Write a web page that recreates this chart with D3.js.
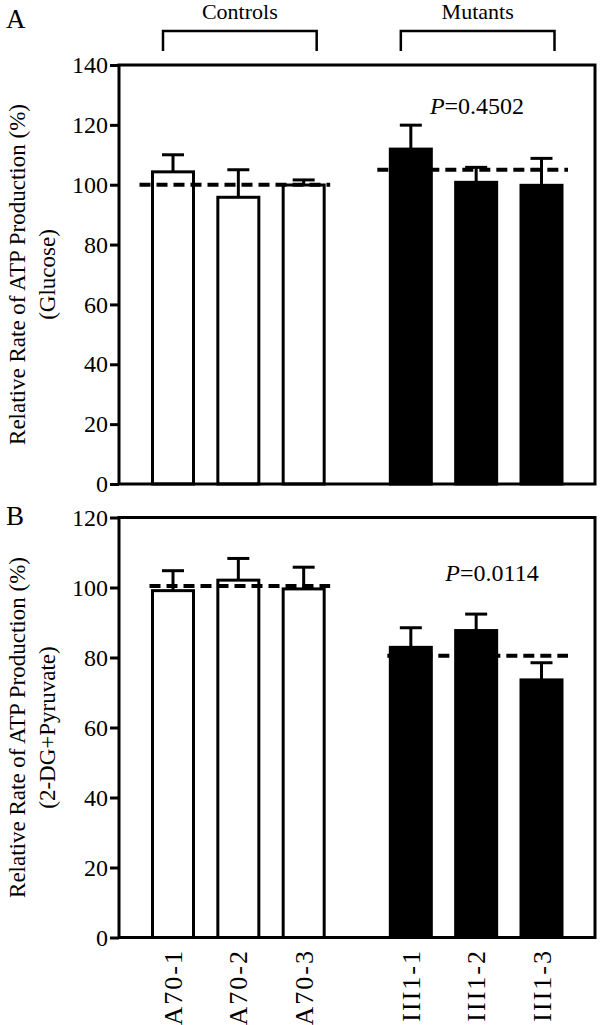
<!DOCTYPE html>
<html>
<head>
<meta charset="utf-8">
<script src="https://cdn.jsdelivr.net/npm/d3@7"></script>
<style>
  html, body { margin: 0; padding: 0; background: #fff; }
  svg { display: block; }
  text { font-family: "Liberation Serif", "Times New Roman", Times, serif; fill: #000; }
</style>
</head>
<body>
<svg id="chart" width="600" height="1025"></svg>
<script>
// ---------- data ----------
const categories = ["A70-1", "A70-2", "A70-3", "III1-1", "III1-2", "III1-3"];
const groupOf = [0, 0, 0, 1, 1, 1];
const groupNames = ["Controls", "Mutants"];

const glucoseValues = [104.3, 95.8, 99.9, 111.9, 100.8, 99.8];
const glucoseErrors = [5.7, 9.2, 1.7, 8.0, 5.0, 9.0];
const glucoseGroupMeans = [100, 105];
const glucoseTicks = [0, 20, 40, 60, 80, 100, 120, 140];
const glucoseP = "0.4502";

const pyruvateValues = [99.1, 102.1, 99.6, 82.9, 87.7, 73.6];
const pyruvateErrors = [5.7, 6.2, 6.2, 5.6, 4.7, 4.9];
const pyruvateGroupMeans = [100.4, 80.5];
const pyruvateTicks = [0, 20, 40, 60, 80, 100, 120];
const pyruvateP = "0.0114";

// ---------- layout ----------
const svg = d3.select("#chart");
const left = 119, right = 595;
const groupGap = 0.64;
const slot = categories.map((c, i) => i + groupOf[i] * groupGap);
const x = d3.scaleLinear().domain([0, d3.max(slot)]).range([173, 541.5]);
const barW = 41;   // inner width (plus stroke 3)

function panel(opts) {
  const y = d3.scaleLinear().domain([0, opts.max]).range([opts.bottom, opts.top]);
  const g = svg.append("g");

  // y axis
  const ax = g.append("g")
    .attr("transform", `translate(${left},0)`)
    .call(d3.axisLeft(y).tickValues(opts.ticks).tickSize(9).tickSizeOuter(0).tickPadding(2));
  ax.select(".domain").remove();
  ax.selectAll(".tick line").attr("stroke", "#000").attr("stroke-width", 3);
  ax.selectAll(".tick text")
    .style("font-family", '"Liberation Serif", "Times New Roman", serif')
    .style("font-size", "24px").attr("fill", "#000");

  // bars
  g.selectAll("rect.bar").data(opts.values).join("rect")
    .attr("class", "bar")
    .attr("x", (d, i) => x(slot[i]) - barW / 2)
    .attr("width", barW)
    .attr("y", d => y(d))
    .attr("height", d => y(0) - y(d))
    .attr("fill", (d, i) => groupOf[i] === 0 ? "#fff" : "#000")
    .attr("stroke", "#000").attr("stroke-width", 3);

  // error bars (upper only)
  const eb = g.selectAll("g.err").data(opts.values).join("g").attr("class", "err");
  eb.append("line")
    .attr("x1", (d, i) => x(slot[i])).attr("x2", (d, i) => x(slot[i]))
    .attr("y1", d => y(d)).attr("y2", (d, i) => y(d + opts.errors[i]))
    .attr("stroke", "#000").attr("stroke-width", 3);
  eb.append("line")
    .attr("x1", (d, i) => x(slot[i]) - 11).attr("x2", (d, i) => x(slot[i]) + 11)
    .attr("y1", (d, i) => y(d + opts.errors[i])).attr("y2", (d, i) => y(d + opts.errors[i]))
    .attr("stroke", "#000").attr("stroke-width", 3);

  // group mean dashed lines
  opts.groupMeans.forEach((m, gi) => {
    const idx = categories.map((c, i) => i).filter(i => groupOf[i] === gi);
    const x0 = x(slot[idx[0]]) - barW / 2 - opts.dashStart;
    const x1 = x(slot[idx[idx.length - 1]]) + barW / 2 + 6;
    g.append("line")
      .attr("x1", x0).attr("x2", x1).attr("y1", y(m)).attr("y2", y(m))
      .attr("stroke", "#000").attr("stroke-width", 4)
      .attr("stroke-dasharray", "11,6");
  });

  // frame
  g.append("rect")
    .attr("x", left).attr("y", opts.top)
    .attr("width", right - left).attr("height", opts.bottom - opts.top)
    .attr("fill", "none").attr("stroke", "#000").attr("stroke-width", 3);

  // P value
  const pt = g.append("text")
    .attr("x", opts.pX).attr("y", y(opts.pY))
    .attr("text-anchor", "middle")
    .style("font-size", "24px");
  pt.append("tspan").style("font-style", "italic").text("P");
  pt.append("tspan").text("=" + opts.p);

  // panel letter
  g.append("text").attr("x", 6).attr("y", opts.letterY)
    .style("font-size", "27px").text(opts.letter);

  // y title (two lines)
  const cy = (opts.top + opts.bottom) / 2;
  g.append("text")
    .attr("transform", `translate(25,${cy}) rotate(-90)`)
    .attr("text-anchor", "middle").style("font-size", "23px")
    .text("Relative Rate of ATP Production (%)");
  g.append("text")
    .attr("transform", `translate(55,${cy}) rotate(-90)`)
    .attr("text-anchor", "middle").style("font-size", "23px")
    .text(opts.sub);

  return y;
}

panel({
  top: 65, bottom: 484, max: 140, ticks: glucoseTicks,
  values: glucoseValues, errors: glucoseErrors, groupMeans: glucoseGroupMeans,
  p: glucoseP, pX: 477, pY: 123.7, letter: "A", letterY: 28, sub: "(Glucose)", dashStart: 13
});

panel({
  top: 517.5, bottom: 937.5, max: 120, ticks: pyruvateTicks,
  values: pyruvateValues, errors: pyruvateErrors, groupMeans: pyruvateGroupMeans,
  p: pyruvateP, pX: 492, pY: 101.9, letter: "B", letterY: 525, sub: "(2-DG+Pyruvate)", dashStart: 3
});

// group brackets on top
groupNames.forEach((name, gi) => {
  const idx = categories.map((c, i) => i).filter(i => groupOf[i] === gi);
  const xa = x(slot[idx[0]]) - 10;
  const xb = x(slot[idx[idx.length - 1]]) + 13;
  svg.append("path")
    .attr("d", `M${xa},51 V31 H${xb} V51`)
    .attr("fill", "none").attr("stroke", "#000").attr("stroke-width", 2.5);
  svg.append("text").attr("x", (xa + xb) / 2).attr("y", 19)
    .attr("text-anchor", "middle").style("font-size", "22px").text(name);
});

// x labels (rotated)
svg.selectAll("text.xl").data(categories).join("text")
  .attr("class", "xl")
  .attr("transform", (d, i) => `translate(${x(slot[i])},949) rotate(-90)`)
  .attr("text-anchor", "end").attr("dy", "0.35em")
  .style("font-size", "26px").style("letter-spacing", "2px")
  .text(d => d);
</script>
</body>
</html>
